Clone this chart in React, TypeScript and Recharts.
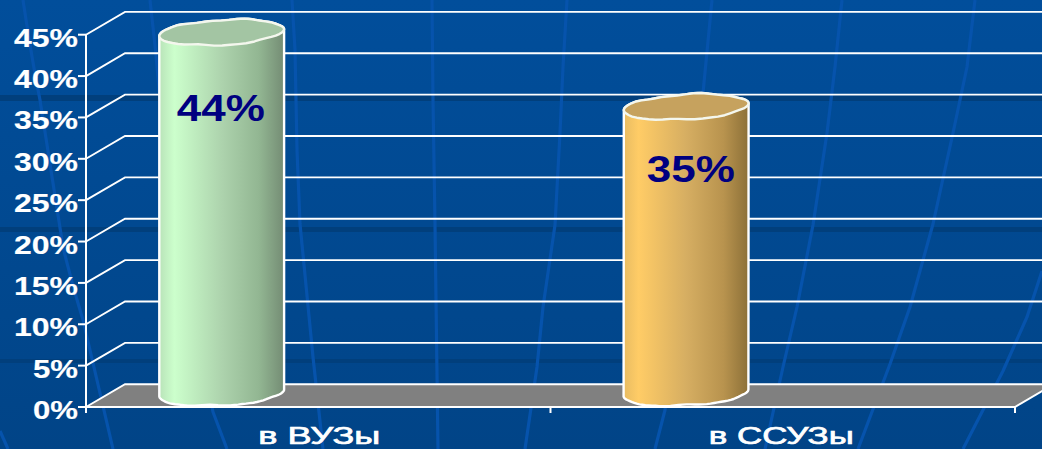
import React from "react";
import { BarChart, Bar, XAxis, YAxis, CartesianGrid, LabelList } from "recharts";

const categories = ["в ВУЗы", "в ССУЗы"];
const shares = [44, 35];
const yTicks = [0, 5, 10, 15, 20, 25, 30, 35, 40, 45];

const W = 1042, H = 449;
const AXIS_W = 86, AXIS_H = 42, TOP = 34.7, RIGHT = 27;
const DX = 39, DY = -22.8;
const BAR_SHIFT = -97;
const FONT = "'Liberation Sans', Arial, sans-serif";
const bottomY = H - AXIS_H;

const barPalettes = [
  { id: "g0", top: "#A3C5A3", stops: [["0", "#B9E3B9"], ["0.12", "#CCFFCC"], ["0.5", "#ADD3AD"], ["0.8", "#92B692"], ["1", "#748C74"]] },
  { id: "g1", top: "#C6A25E", stops: [["0", "#E8BC62"], ["0.12", "#FFCC66"], ["0.5", "#D6AE62"], ["0.8", "#B8934E"], ["1", "#8C7038"]] },
];
const labelNudge = [-0.75, 4.75];
const categoryNudge = [1, -1.5];

const streaks = [
  "M23 0 Q32 60 40 100 Q48 150 63 247 Q72 285 83 320 L113 449",
  "M150 0 Q156 50 160 100 Q185 280 213 412 L227 449",
  "M0 431 L8 449",
  "M292 0 L295 50 L297 150 L300 224 L313 357 L323 449",
  "M432 0 L433 100 L435 224 L437 374 L438 449",
  "M567 0 L563 67 L560 133 L555 225 L543 307 L537 367 L525 449",
  "M712 0 L703 93 L665 410 L655 449",
  "M842 0 L835 67 L827 133 L813 225 L797 307 L783 367 L765 449",
  "M975 0 L967 67 L953 133 L933 224 L910 307 L890 364 L858 449",
  "M1042 271 L1027 317 L1003 371 L963 449",
];
const bands = [
  [95, 6],
  [227, 5],
  [359, 4],
];

function ellipsePoints(cx: number, cy: number, rx: number, ry: number, from: number, to: number, phase: number) {
  const tilt = (-3.2 * Math.PI) / 180;
  const pts: string[] = [];
  const n = 48;
  for (let i = 0; i <= n; i++) {
    const t = from + ((to - from) * i) / n;
    const ex = rx * (1 + 0.004 * Math.sin(7 * t + phase)) * Math.cos(t);
    const ey = ry * (1 + 0.06 * Math.sin(5 * t + phase) + 0.03 * Math.sin(11 * t + 2 * phase)) * Math.sin(t);
    pts.push(`${(cx + ex * Math.cos(tilt) - ey * Math.sin(tilt)).toFixed(1)} ${(cy + ex * Math.sin(tilt) + ey * Math.cos(tilt)).toFixed(1)}`);
  }
  return pts;
}

function Cylinder(props: any) {
  const { x, y, width, height, index } = props;
  const cx = x + width / 2 + BAR_SHIFT;
  const topY = y - 10.5;
  const botY = y + height - 14;
  const rx = width / 2, ry = 12.5;
  const p = barPalettes[index];
  const topRing = ellipsePoints(cx, topY, rx, ry, 0, Math.PI * 2, index + 1);
  const bottomArc = ellipsePoints(cx, botY, rx, ry, 0, Math.PI, index + 2);
  const upperBack = ellipsePoints(cx, topY, rx, ry, Math.PI, Math.PI * 2, index + 1);
  return (
    <g>
      <path
        d={`M${upperBack.join(" L")} L${bottomArc.join(" L")} Z`}
        fill={`url(#${p.id})`}
        stroke="#fff"
        strokeWidth={2.4}
        strokeLinejoin="round"
      />
      <path d={`M${topRing.join(" L")} Z`} fill={p.top} stroke="#F4F7EE" strokeWidth={2.4} strokeLinejoin="round" />
    </g>
  );
}

function YTick(props: any) {
  const { x, y, payload } = props;
  const s = `${payload.value}%`;
  const len = s.length === 3 ? 64 : 45;
  return (
    <text x={x + 2} y={y + 12} fill="#fff" stroke="#fff" strokeWidth={0.15} fontFamily={FONT} fontWeight={700} fontSize={26} textAnchor="end" textLength={len} lengthAdjust="spacingAndGlyphs">
      {s}
    </text>
  );
}

function XTick(props: any) {
  const { x, payload, index } = props;
  return (
    <text x={x + categoryNudge[index]} y={443.7} fill="#fff" fontFamily={FONT} fontWeight={400} fontSize={24.5} stroke="#fff" strokeWidth={0.7} textAnchor="middle" textLength={index === 0 ? 122 : 145} lengthAdjust="spacingAndGlyphs">
      {payload.value}
    </text>
  );
}

function WallLine(props: any) {
  const { x1, x2, y1 } = props;
  const isFloor = Math.abs(y1 - bottomY) < 1;
  const mid = (x1 + x2) / 2;
  return (
    <g>
      {isFloor && (
        <polygon
          points={`${x1},${y1} ${x1 + DX},${y1 + DY} ${x2 + DX},${y1 + DY} ${x2},${y1}`}
          fill="#808080"
        />
      )}
      <polyline points={`${x1},${y1} ${x1 + DX},${y1 + DY} ${x2 + DX},${y1 + DY}`} fill="none" stroke="#fff" strokeWidth={1.9} />
      {isFloor && (
        <g stroke="#fff" strokeWidth={2} fill="none">
          <line x1={x2} y1={y1} x2={x2 + DX} y2={y1 + DY} />
          <line x1={x1} y1={y1} x2={x1} y2={y1 + 6} />
          <line x1={mid} y1={y1} x2={mid} y2={y1 + 6} />
          <line x1={x2} y1={y1} x2={x2} y2={y1 + 6} />
        </g>
      )}
    </g>
  );
}

function ShareLabel(props: any) {
  const { x, y, width, height, value, index } = props;
  return (
    <text
      x={x + width / 2 + BAR_SHIFT + labelNudge[index]}
      y={y + height * 0.178 + 13}
      fill="#000080"
      fontFamily={FONT}
      fontWeight={700}
      fontSize={37}
      textAnchor="middle"
      textLength={88}
      lengthAdjust="spacingAndGlyphs"
    >
      {value}%
    </text>
  );
}

const rows = categories.map((name, i) => ({ name, share: shares[i] }));

export default function App() {
  return (
    <div style={{ position: "absolute", left: 0, top: 0, width: W, height: H, overflow: "hidden", background: "linear-gradient(#014E9B, #014487)" }}>
      <svg width={W} height={H} style={{ position: "absolute", left: 0, top: 0 }}>
        {bands.map(([y, h]) => (
          <rect key={y} x={0} y={y} width={W} height={h} fill="#013F7C" />
        ))}
        {streaks.map((d) => (
          <path key={d} d={d} fill="none" stroke="#0653AC" strokeWidth={3.2} strokeLinejoin="round" />
        ))}
      </svg>
      <div style={{ position: "absolute", left: 0, top: 0 }}>
        <BarChart width={W} height={H} data={rows} margin={{ top: TOP, right: RIGHT, bottom: 0, left: 0 }} barSize={125}>
          <defs>
            {barPalettes.map((p) => (
              <linearGradient key={p.id} id={p.id} x1="0" y1="0" x2="1" y2="0">
                {p.stops.map(([o, c]) => (
                  <stop key={o} offset={o} stopColor={c} />
                ))}
              </linearGradient>
            ))}
          </defs>
          <CartesianGrid vertical={false} horizontal={(p: any) => <WallLine key={p.key} {...p} />} />
          <XAxis dataKey="name" height={AXIS_H} interval={0} tickLine={false} axisLine={{ stroke: "#fff", strokeWidth: 2 }} tick={<XTick />} />
          <YAxis
            width={AXIS_W}
            domain={[0, 45]}
            ticks={yTicks}
            tickLine={{ stroke: "#fff", strokeWidth: 2 }}
            tickSize={8}
            axisLine={{ stroke: "#fff", strokeWidth: 2 }}
            tick={<YTick />}
          />
          <Bar dataKey="share" isAnimationActive={false} shape={<Cylinder />}>
            <LabelList dataKey="share" content={<ShareLabel />} />
          </Bar>
        </BarChart>
      </div>
    </div>
  );
}
